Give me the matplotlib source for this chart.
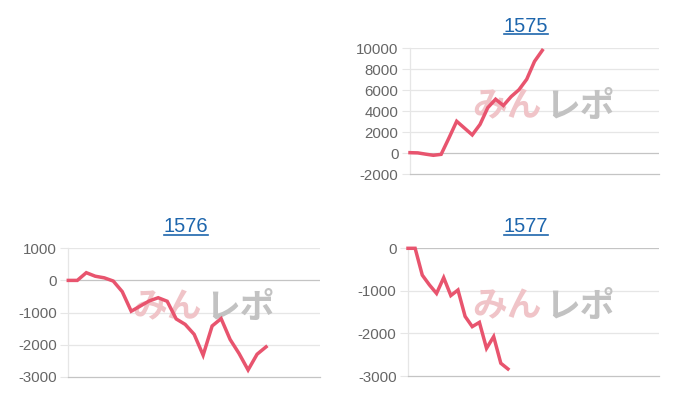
import matplotlib
matplotlib.use('Agg')
import matplotlib.pyplot as plt
from matplotlib.lines import Line2D

# ---- data ----
titles = ['1575', '1576', '1577']
s1575 = [60, 40, -80, -190, -100, 1450, 3050, 2400, 1750, 2750, 4350, 5150,
         4550, 5400, 6050, 7050, 8750, 9800]
s1576 = [0, 0, 240, 130, 80, -20, -350, -960, -800, -640, -540, -650, -1200,
         -1370, -1680, -2330, -1420, -1190, -1840, -2280, -2790, -2300, -2070]
s1577 = [0, 0, -630, -860, -1060, -690, -1110, -980, -1600, -1840, -1740,
         -2350, -2075, -2700, -2835]
ticks1575 = [-2000, 0, 2000, 4000, 6000, 8000, 10000]
ticks1576 = [-3000, -2000, -1000, 0, 1000]
ticks1577 = [-3000, -2000, -1000, 0]
xspan = [32, 28, 35.2]

W, H = 700, 400
fig = plt.figure(figsize=(7, 4), dpi=100)
fig.patch.set_facecolor('white')

LINE = '#e8546e'
GRID = '#e6e6e6'
ZERO = '#c4c4c4'
BLUE = '#1e66ad'
TICK = '#666666'

def box(l, r, t, b):
    return [l / W, 1 - b / H, (r - l) / W, (b - t) / H]

panels = [
    dict(title=titles[0], data=s1575, ticks=ticks1575, span=xspan[0],
         rect=box(410, 659, 48.3, 174.3), tpos=(526, 26), upos=33.5, wm=(543, 106)),
    dict(title=titles[1], data=s1576, ticks=ticks1576, span=xspan[1],
         rect=box(68.3, 320, 248.3, 376.7), tpos=(186, 226.5), upos=234.5, wm=(203, 307)),
    dict(title=titles[2], data=s1577, ticks=ticks1577, span=xspan[2],
         rect=box(408, 659.3, 248.3, 376), tpos=(526, 226.5), upos=234.5, wm=(543, 306)),
]

title_texts = []
for p in panels:
    ax = fig.add_axes(p['rect'])
    ax.set_facecolor('none')
    ax.set_xlim(0, p['span'])
    ax.set_ylim(min(p['ticks']), max(p['ticks']))
    ax.set_yticks(p['ticks'])
    ax.set_yticklabels([str(t) for t in p['ticks']], fontfamily='Liberation Sans',
                       fontsize=10.8, color=TICK)
    ax.set_xticks([])
    ax.tick_params(axis='y', length=5.8, width=0.8, color=GRID, pad=2.4)
    for t in p['ticks']:
        if t == min(p['ticks']):
            continue
        ax.axhline(t, color=ZERO if t == 0 else GRID, lw=0.9, zorder=0.5)
    for s in ['top', 'right']:
        ax.spines[s].set_visible(False)
    ax.spines['left'].set_color(GRID)
    ax.spines['left'].set_linewidth(0.9)
    ax.spines['bottom'].set_color(ZERO)
    ax.spines['bottom'].set_linewidth(0.9)

    # watermark
    wx, wy = p['wm']
    ax.text((wx - 1) / W, 1 - wy / H, 'みん', transform=fig.transFigure,
            ha='right', va='center', fontsize=25, fontweight='bold',
            fontfamily=['Noto Sans CJK JP', 'DejaVu Sans'], color='#f0c4c8',
            zorder=1)
    ax.text((wx + 2) / W, 1 - wy / H, 'レポ', transform=fig.transFigure,
            ha='left', va='center', fontsize=25, fontweight='bold',
            fontfamily=['Noto Sans CJK JP', 'DejaVu Sans'], color='#c2c2c2',
            zorder=1)

    xs = list(range(len(p['data'])))
    ax.plot(xs, p['data'], color=LINE, lw=2.5, solid_joinstyle='miter',
            clip_on=False, zorder=3)

    tx, ty = p['tpos']
    t = fig.text(tx / W, 1 - ty / H, p['title'], ha='center', va='center',
                 fontsize=14.5, color=BLUE, fontfamily='Liberation Sans')
    title_texts.append((t, p['upos']))

fig.canvas.draw()
r = fig.canvas.get_renderer()
for t, uy in title_texts:
    bb = t.get_window_extent(renderer=r)
    fig.add_artist(Line2D([bb.x0 / W, bb.x1 / W], [1 - uy / H, 1 - uy / H],
                          transform=fig.transFigure, color=BLUE, lw=1.2))

fig.savefig('out.png', dpi=100, facecolor='white')
